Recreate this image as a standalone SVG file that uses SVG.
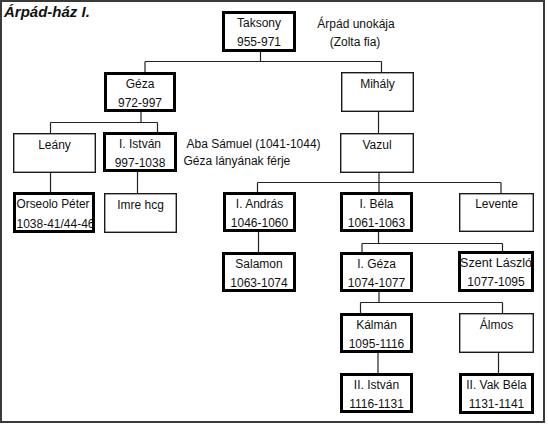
<svg xmlns="http://www.w3.org/2000/svg" width="548" height="426" viewBox="0 0 548 426">
<style>
text{font-family:"Liberation Sans",Arial,sans-serif;font-size:12px;fill:#111;}
.c{text-anchor:middle;}
.thick{fill:#fff;stroke:#000;stroke-width:3;}
.thin{fill:#fff;stroke:#1a1a1a;stroke-width:1.4;}
.conn{fill:none;stroke:#222;stroke-width:1.2;}
.title{font-size:15px;font-weight:bold;font-style:italic;}
</style>
<rect x="0" y="0" width="548" height="426" fill="#fff"/>
<rect x="1" y="1" width="543" height="421" fill="none" stroke="#3a3a3a" stroke-width="2"/>
<text class="title" x="4" y="17">Árpád-ház I.</text>

<g id="connectors" class="conn">
<path d="M260.5,52V61.5M145,61.5H381.5M145,61.5V72M381.5,61.5V72"/>
<path d="M141,112V122.5M50.5,122.5H157.5M50.5,122.5V133M157.5,122.5V132"/>
<path d="M50.5,173V192"/>
<path d="M137.5,172V193"/>
<path d="M378.5,112V133"/>
<path d="M379,173V182.5M257.5,182.5H501M257.5,182.5V192M379,182.5V192M501,182.5V193"/>
<path d="M258.5,232V252"/>
<path d="M378.5,232V243.5M362,243.5H502.5M362,243.5V252M502.5,243.5V251"/>
<path d="M379,292V302.5M360.5,302.5H502.5M360.5,302.5V313M502.5,302.5V313"/>
<path d="M378,353V373"/>
<path d="M498.5,353V373"/>
</g>

<g id="taksony"><rect class="thick" x="223.5" y="12.5" width="71" height="38"/><text class="c" x="259" y="26.5">Taksony</text><text class="c" x="259" y="46">955-971</text></g>
<g id="note-taksony"><text class="c" x="356" y="28">Árpád unokája</text><text class="c" x="355" y="46">(Zolta fia)</text></g>
<g id="geza"><rect class="thick" x="105.5" y="73.5" width="69" height="37"/><text class="c" x="140" y="87.5">Géza</text><text class="c" x="140" y="107">972-997</text></g>
<g id="mihaly"><rect class="thin" x="341.7" y="72.7" width="71.6" height="38.6"/><text class="c" x="377.5" y="87.5">Mihály</text></g>
<g id="leany"><rect class="thin" x="13.7" y="133.7" width="81.6" height="38.6"/><text class="c" x="54.5" y="148.5">Leány</text></g>
<g id="istvan1"><rect class="thick" x="104.5" y="133.5" width="71" height="37"/><text class="c" x="140" y="147.5">I. István</text><text class="c" x="140" y="167">997-1038</text></g>
<g id="note-aba"><text x="186.5" y="148">Aba Sámuel (1041-1044)</text><text x="183.5" y="164.5">Géza lányának férje</text></g>
<g id="vazul"><rect class="thin" x="340.7" y="133.7" width="72.6" height="38.6"/><text class="c" x="377" y="148.5">Vazul</text></g>
<g id="orseolo"><rect class="thick" x="14.5" y="193.5" width="79" height="38"/><text x="16.5" y="208" textLength="73" lengthAdjust="spacingAndGlyphs">Orseolo Péter</text><text x="16.5" y="228" textLength="78" lengthAdjust="spacingAndGlyphs">1038-41/44-46</text></g>
<g id="imre"><rect class="thin" x="104.7" y="193.7" width="71.6" height="38.6"/><text class="c" x="140.5" y="208.5">Imre hcg</text></g>
<g id="andras"><rect class="thick" x="224.5" y="193.5" width="70" height="37"/><text class="c" x="259.5" y="207.5">I. András</text><text class="c" x="259.5" y="227">1046-1060</text></g>
<g id="bela1"><rect class="thick" x="341.5" y="193.5" width="70" height="37"/><text class="c" x="376.5" y="207.5">I. Béla</text><text class="c" x="376.5" y="227">1061-1063</text></g>
<g id="levente"><rect class="thin" x="459.7" y="193.7" width="73.6" height="37.6"/><text class="c" x="496.5" y="208">Levente</text></g>
<g id="salamon"><rect class="thick" x="223.5" y="253.5" width="71" height="37"/><text class="c" x="259" y="267.5">Salamon</text><text class="c" x="259" y="287">1063-1074</text></g>
<g id="geza1"><rect class="thick" x="341.5" y="253.5" width="70" height="37"/><text class="c" x="376.5" y="267.5">I. Géza</text><text class="c" x="376.5" y="287">1074-1077</text></g>
<g id="laszlo"><rect class="thick" x="459.5" y="252.5" width="73" height="38"/><text class="c" x="496" y="266.5" textLength="72" lengthAdjust="spacingAndGlyphs">Szent László</text><text class="c" x="496" y="286">1077-1095</text></g>
<g id="kalman"><rect class="thick" x="341.5" y="314.5" width="70" height="37"/><text class="c" x="376.5" y="328.5">Kálmán</text><text class="c" x="376.5" y="348">1095-1116</text></g>
<g id="almos"><rect class="thin" x="459.7" y="313.7" width="73.6" height="38.6"/><text class="c" x="496.5" y="328.5">Álmos</text></g>
<g id="istvan2"><rect class="thick" x="341.5" y="374.5" width="70" height="37"/><text class="c" x="376.5" y="388.5">II. István</text><text class="c" x="376.5" y="408">1116-1131</text></g>
<g id="vakbela"><rect class="thick" x="460.5" y="374.5" width="72" height="38"/><text class="c" x="496.5" y="388.5">II. Vak Béla</text><text class="c" x="496.5" y="408">1131-1141</text></g>
</svg>
